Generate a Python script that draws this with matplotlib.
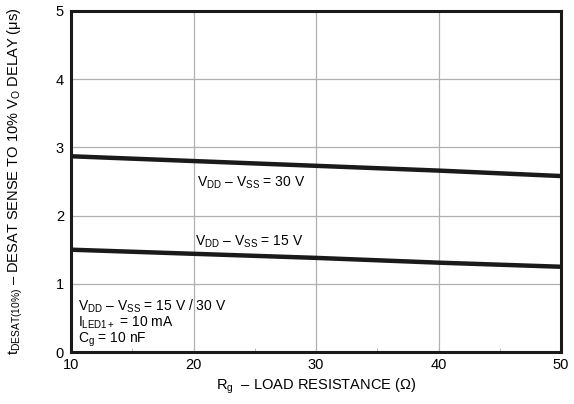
import numpy as np
import matplotlib.pyplot as plt
from matplotlib.ticker import MultipleLocator

plt.rcParams['font.family'] = ['Liberation Sans', 'DejaVu Sans']
plt.rcParams['mathtext.fontset'] = 'custom'
plt.rcParams['mathtext.rm'] = 'Liberation Sans'
plt.rcParams['mathtext.it'] = 'Liberation Sans'

# data
rg = [10, 20, 30, 40, 50]
delay_30v = [2.87, 2.80, 2.73, 2.66, 2.58]
delay_15v = [1.50, 1.44, 1.38, 1.31, 1.25]

fig = plt.figure(figsize=(5.74, 4.04), dpi=100)
ax = fig.add_axes([71/574, 1 - 352/404, (561-71)/574, (352-11)/404])

ax.plot(rg, delay_30v, color='#1a1a1a', linewidth=3.2, solid_capstyle='butt')
ax.plot(rg, delay_15v, color='#1a1a1a', linewidth=3.2, solid_capstyle='butt')

ax.set_xlim(10, 50)
ax.set_ylim(0, 5)
ax.xaxis.set_major_locator(MultipleLocator(10))
ax.xaxis.set_minor_locator(MultipleLocator(5))
ax.yaxis.set_major_locator(MultipleLocator(1))
ax.grid(True, which='major', color='#b0b0b0', linewidth=0.9)
for s in ax.spines.values():
    s.set_linewidth(2.2)
    s.set_color('#1a1a1a')
ax.tick_params(which='major', length=0, labelsize=10.5, pad=5)
ax.tick_params(which='minor', direction='in', length=3, color='#b0b0b0')
ax.tick_params(axis='x', pad=4)

ax.text(20.3, 2.48, r'V$_{\rm DD}$ – V$_{\rm SS}$ = 30 V', fontsize=10, va='center')
ax.text(20.1, 1.62, r'V$_{\rm DD}$ – V$_{\rm SS}$ = 15 V', fontsize=10, va='center')
ax.text(10.55, 0.42, r'V$_{\rm DD}$ – V$_{\rm SS}$ = 15 V / 30 V' + '\n'
        + r'I$_{\rm LED1+}$ = 10 mA' + '\n' + r'C$_{\rm g}$ = 10 nF',
        fontsize=10, va='center', linespacing=1.0)

ax.set_xlabel(r'R$_{\rm g}$  – LOAD RESISTANCE ($\Omega$)', fontsize=10.5, labelpad=4)
ax.set_ylabel(r't$_{\rm DESAT(10\%)}$ – DESAT SENSE TO 10% V$_{\rm O}$ DELAY ($\mu$s)',
              fontsize=10.5, labelpad=22)

fig.savefig('out.png', dpi=100)
